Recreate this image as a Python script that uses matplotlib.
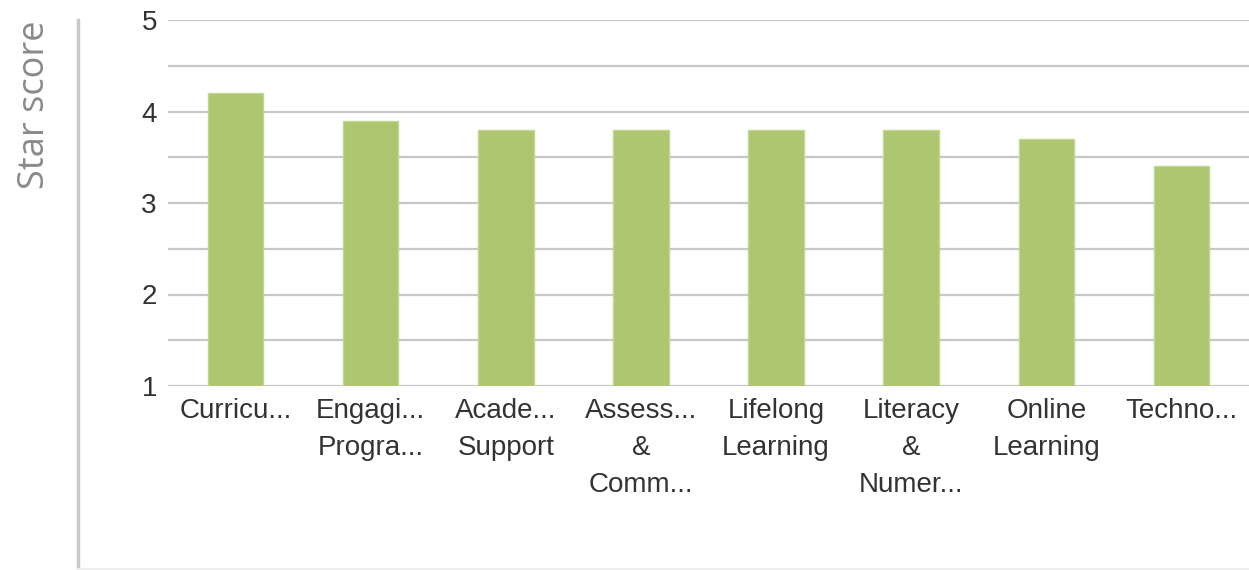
import matplotlib.pyplot as plt
from matplotlib.lines import Line2D

# data
categories = ["Curricu...", "Engagi...\nProgra...", "Acade...\nSupport",
              "Assess...\n&\nComm...", "Lifelong\nLearning", "Literacy\n&\nNumer...",
              "Online\nLearning", "Techno..."]
scores = [4.2, 3.9, 3.8, 3.8, 3.8, 3.8, 3.7, 3.4]
y_ticks = [1, 2, 3, 4, 5]
grid_lines = [1, 1.5, 2, 2.5, 3, 3.5, 4, 4.5, 5]

plt.rcParams['font.family'] = ['Liberation Sans', 'DejaVu Sans']

fig = plt.figure(figsize=(12.49, 5.70), dpi=100)
ax = fig.add_axes([168/1249, 1 - 386/570, 1 - 168/1249, (386 - 20)/570])

x = range(len(categories))
ax.bar(x, scores, width=0.41, color="#adc66f", edgecolor="#c2d78f", linewidth=1, zorder=3)

for g in grid_lines:
    ax.axhline(g, color="#c8c8c8", linewidth=1.6, zorder=1)

ax.set_ylim(1, 5)
ax.set_xlim(-0.5, len(categories) - 0.5)
ax.set_yticks(y_ticks)
ax.set_yticklabels([str(t) for t in y_ticks])
ax.set_xticks(list(x))
ax.set_xticklabels(categories, linespacing=1.53)

ax.tick_params(axis='both', length=0, labelsize=20, labelcolor="#333333")
ax.tick_params(axis='y', pad=8)
ax.tick_params(axis='x', pad=9)
for s in ax.spines.values():
    s.set_visible(False)

# left separator line and bottom border
fig.add_artist(Line2D([78/1249, 78/1249], [0, 1 - 20/570], color="#c8c8c8", linewidth=2.5))
fig.add_artist(Line2D([78/1249, 1], [0.002, 0.002], color="#eeeeee", linewidth=1.5))

fig.text(35/1249, 1 - 105/570, "Star score", rotation=90, ha="center", va="center",
         fontsize=26, color="#8a8a8a", family=["Open Sans", "DejaVu Sans"])

fig.savefig("out.png", dpi=100)
